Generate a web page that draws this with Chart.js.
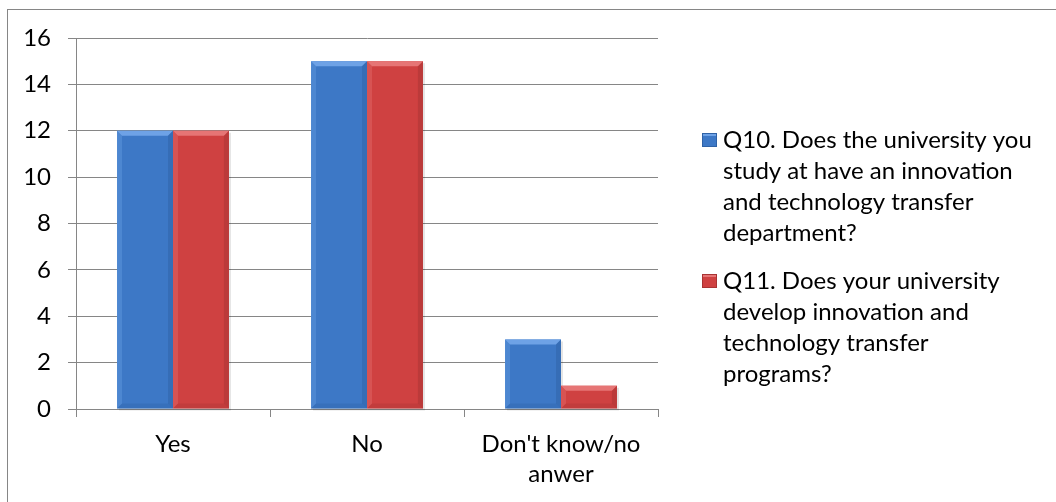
<!DOCTYPE html>
<html>
<head>
<meta charset="utf-8">
<script src="https://cdn.jsdelivr.net/npm/chart.js@4"></script>
<style>
  html, body { margin: 0; padding: 0; background: #fff; }
  #wrap { position: relative; width: 1056px; height: 502px; overflow: hidden; }
  #frame { position: absolute; left: 7px; top: 9px; width: 1100px; height: 600px; border: 1px solid #868686; box-sizing: border-box; }
  canvas { position: absolute; left: 0; top: 0; }
</style>
</head>
<body>
<div id="wrap">
  <div id="frame"></div>
  <canvas id="myChart" width="1056" height="502"></canvas>
</div>
<script>
// categories and answers
const categories = ['Yes', 'No', ["Don't know/no", 'anwer']];
const q10 = [12, 15, 3];
const q11 = [12, 15, 1];
const seriesNames = [
    'Q10. Does the university you study at have an innovation and technology transfer department?',
    'Q11. Does your university develop innovation and technology transfer programs?'
];
const legendLines = [
    ['Q10. Does the university you', 'study at have an innovation', 'and technology transfer', 'department?'],
    ['Q11. Does your university', 'develop innovation and', 'technology transfer', 'programs?']
];
const yTicks = [0, 2, 4, 6, 8, 10, 12, 14, 16];

const FONT = 'Lato, "Open Sans", sans-serif';

// face / light / dark tones for the bevelled bars
const tones = [
    { face: '#3d78c6', light: '#6ea2e6', dark: '#2f62a6' },
    { face: '#cf4141', light: '#e67575', dark: '#a83333' }
];

const bevelPlugin = {
    id: 'bevel',
    beforeDatasetsDraw(chart) {
        // soft shadow behind bars
        const c = chart.ctx;
        chart.data.datasets.forEach((ds, i) => {
            chart.getDatasetMeta(i).data.forEach(bar => {
                const l = bar.x - bar.width / 2, top = bar.y;
                c.save();
                c.fillStyle = 'rgba(0,0,0,0.10)';
                c.fillRect(l + 2, top + 2, bar.width, bar.base - top);
                c.restore();
            });
        });
    },
    afterDatasetsDraw(chart) {
        const c = chart.ctx;
        chart.data.datasets.forEach((ds, i) => {
            const t = tones[i];
            chart.getDatasetMeta(i).data.forEach(bar => {
                const l = bar.x - bar.width / 2, r = bar.x + bar.width / 2;
                const top = bar.y, bot = bar.base;
                const b = Math.min(5, (bot - top) / 2);
                c.save();
                // top bevel
                c.fillStyle = t.light;
                c.beginPath();
                c.moveTo(l, top); c.lineTo(r, top); c.lineTo(r - b, top + b); c.lineTo(l + b, top + b);
                c.closePath(); c.fill();
                // left bevel
                c.globalAlpha = 0.35;
                c.beginPath();
                c.moveTo(l, top); c.lineTo(l + b, top + b); c.lineTo(l + b, bot - b); c.lineTo(l, bot);
                c.closePath(); c.fill();
                // right bevel
                c.globalAlpha = 0.5;
                c.fillStyle = t.dark;
                c.beginPath();
                c.moveTo(r, top); c.lineTo(r - b, top + b); c.lineTo(r - b, bot - b); c.lineTo(r, bot);
                c.closePath(); c.fill();
                // bottom bevel
                c.globalAlpha = 0.35;
                c.beginPath();
                c.moveTo(l, bot); c.lineTo(l + b, bot - b); c.lineTo(r - b, bot - b); c.lineTo(r, bot);
                c.closePath(); c.fill();
                c.restore();
            });
        });
    },
    afterDraw(chart) {
        // legend at right, wrapped like the original
        const c = chart.ctx;
        const x0 = 702, textX = 723, lineH = 31;
        const starts = [140, 281];
        c.save();
        c.font = '24px ' + FONT;
        c.textBaseline = 'middle';
        legendLines.forEach((lines, i) => {
            const y = starts[i];
            const t = tones[i];
            c.fillStyle = t.face;
            c.fillRect(x0, y - 7, 15, 14);
            c.fillStyle = t.light;
            c.fillRect(x0, y - 7, 15, 3);
            c.strokeStyle = t.dark;
            c.lineWidth = 1;
            c.strokeRect(x0 + 0.5, y - 6.5, 14, 13);
            c.fillStyle = '#000';
            lines.forEach((s, k) => c.fillText(s, textX, y + k * lineH));
        });
        c.restore();
    }
};

document.addEventListener('DOMContentLoaded', function() {
    const ctx = document.getElementById('myChart');

    new Chart(ctx, {
        type: 'bar',
        data: {
            labels: categories,
            datasets: [{
                label: seriesNames[0],
                data: q10,
                backgroundColor: tones[0].face,
                borderWidth: 0,
                categoryPercentage: 0.577,
                barPercentage: 1
            }, {
                label: seriesNames[1],
                data: q11,
                backgroundColor: tones[1].face,
                borderWidth: 0,
                categoryPercentage: 0.577,
                barPercentage: 1
            }]
        },
        options: {
            responsive: false,
            animation: false,
            layout: { padding: { left: 0, top: 38, right: 398, bottom: 0 } },
            plugins: {
                legend: { display: false },
                tooltip: { enabled: false }
            },
            scales: {
                x: {
                    afterFit: s => { s.height = 93; },
                    grid: {
                        display: true,
                        offset: true,
                        drawOnChartArea: false,
                        color: '#868686',
                        tickLength: 8,
                        lineWidth: 1
                    },
                    border: { color: '#868686', width: 1 },
                    ticks: {
                        color: '#000',
                        font: { family: FONT, size: 24, lineHeight: 1.25 },
                        padding: 12,
                        maxRotation: 0
                    }
                },
                y: {
                    min: 0,
                    max: 16,
                    afterFit: s => { s.width = 76; },
                    afterBuildTicks: s => { s.ticks = yTicks.map(v => ({ value: v })); },
                    grid: {
                        color: '#868686',
                        tickLength: 8,
                        lineWidth: 1
                    },
                    border: { color: '#868686', width: 1 },
                    ticks: {
                        color: '#000',
                        font: { family: FONT, size: 24 },
                        padding: 17
                    }
                }
            }
        },
        plugins: [bevelPlugin]
    });
});
</script>
</body>
</html>
